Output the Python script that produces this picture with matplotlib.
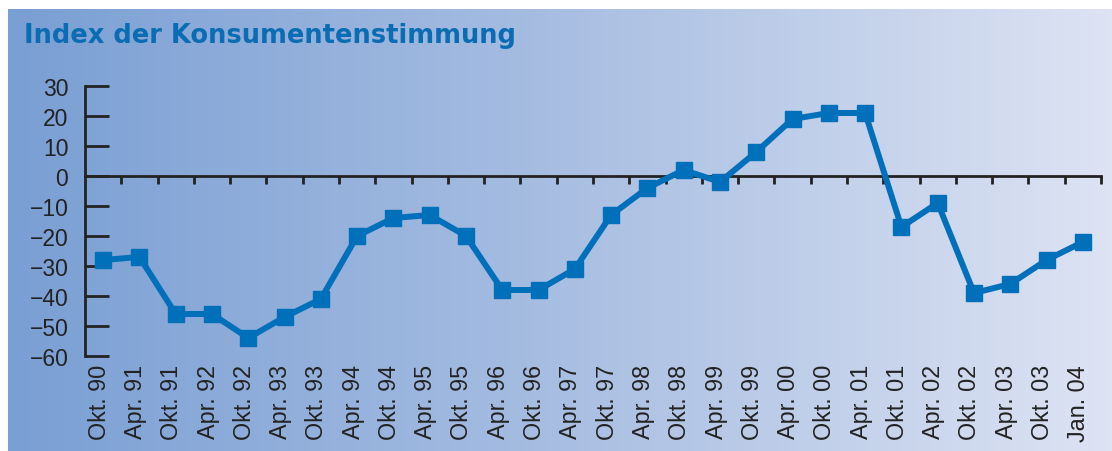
import numpy as np
import matplotlib
matplotlib.use("Agg")
import matplotlib.pyplot as plt
from matplotlib.colors import LinearSegmentedColormap
from matplotlib.transforms import blended_transform_factory, offset_copy

# ---- data ----
categories = ["Okt. 90", "Apr. 91", "Okt. 91", "Apr. 92", "Okt. 92", "Apr. 93", "Okt. 93",
              "Apr. 94", "Okt. 94", "Apr. 95", "Okt. 95", "Apr. 96", "Okt. 96", "Apr. 97",
              "Okt. 97", "Apr. 98", "Okt. 98", "Apr. 99", "Okt. 99", "Apr. 00", "Okt. 00",
              "Apr. 01", "Okt. 01", "Apr. 02", "Okt. 02", "Apr. 03", "Okt. 03", "Jan. 04"]
values = [-28, -27, -46, -46, -54, -47, -41, -20, -14, -13, -20, -38, -38, -31,
          -13, -4, 2, -2, 8, 19, 21, 21, -17, -9, -39, -36, -28, -22]
yticks = [30, 20, 10, 0, -10, -20, -30, -40, -50, -60]
ytick_labels = ["30", "20", "10", "0", "\u221210", "\u221220", "\u221230", "\u221240", "\u221250", "\u221260"]
title = "Index der Konsumentenstimmung"

W, H = 1112, 452
fig = plt.figure(figsize=(W / 100, H / 100), dpi=100)
fig.patch.set_facecolor("white")

# gradient background panel (pixel-exact)
cmap = LinearSegmentedColormap.from_list("bg", ["#7A9FD4", "#A8BEE2", "#DDE3F3"])
bw, bh = W - 8, H - 10
grad = cmap(np.linspace(0, 1, bw))[:, :3]
img = np.repeat(grad[np.newaxis, :, :], bh, axis=0)
fig.figimage(img, xo=8, yo=0, origin="upper", zorder=-10)

fig.text(24 / W, 1 - 43 / H, title, fontsize=18.5, fontweight="bold",
         family="DejaVu Sans", color="#0A6CB2", ha="left", va="baseline", zorder=5)

# main axes
left, right = 85, 1101
top, bottom = 87, 357
ax = fig.add_axes([left / W, (H - bottom) / H, (right - left) / W, (bottom - top) / H])
ax.set_zorder(5)
ax.patch.set_alpha(0)

n = len(categories)
x = np.arange(n)
ax.plot(x, values, color="#0070BA", lw=4.3, marker="s", ms=12, mec="#0070BA",
        mfc="#0070BA", zorder=5, clip_on=False)

ax.set_xlim(-0.5, n - 0.5)
ax.set_ylim(-60, 30)

axcol = "#222222"
for s in ["top", "right"]:
    ax.spines[s].set_visible(False)
ax.spines["left"].set_color(axcol)
ax.spines["left"].set_linewidth(2)
ax.spines["bottom"].set_position(("data", 0))
ax.spines["bottom"].set_color(axcol)
ax.spines["bottom"].set_linewidth(2)

ax.set_yticks(yticks)
ax.set_yticklabels(ytick_labels, family="Liberation Sans", fontsize=16.5, color=axcol)
ax.tick_params(axis="y", direction="in", length=17.5, width=2, color=axcol, pad=12)

ax.set_xticks(x + 0.5)
ax.set_xticklabels([])
ax.tick_params(axis="x", direction="out", length=5.5, width=2, color=axcol)

trans = offset_copy(blended_transform_factory(ax.transData, ax.transAxes),
                    fig=fig, x=-4, y=0, units="dots")
for xi, lab in zip(x, categories):
    ax.text(xi, -8 / (bottom - top), lab, transform=trans, rotation=90,
            ha="center", va="top", fontsize=16.8, family="Liberation Sans",
            color=axcol)

fig.savefig("out.png", dpi=100, facecolor=fig.get_facecolor())
